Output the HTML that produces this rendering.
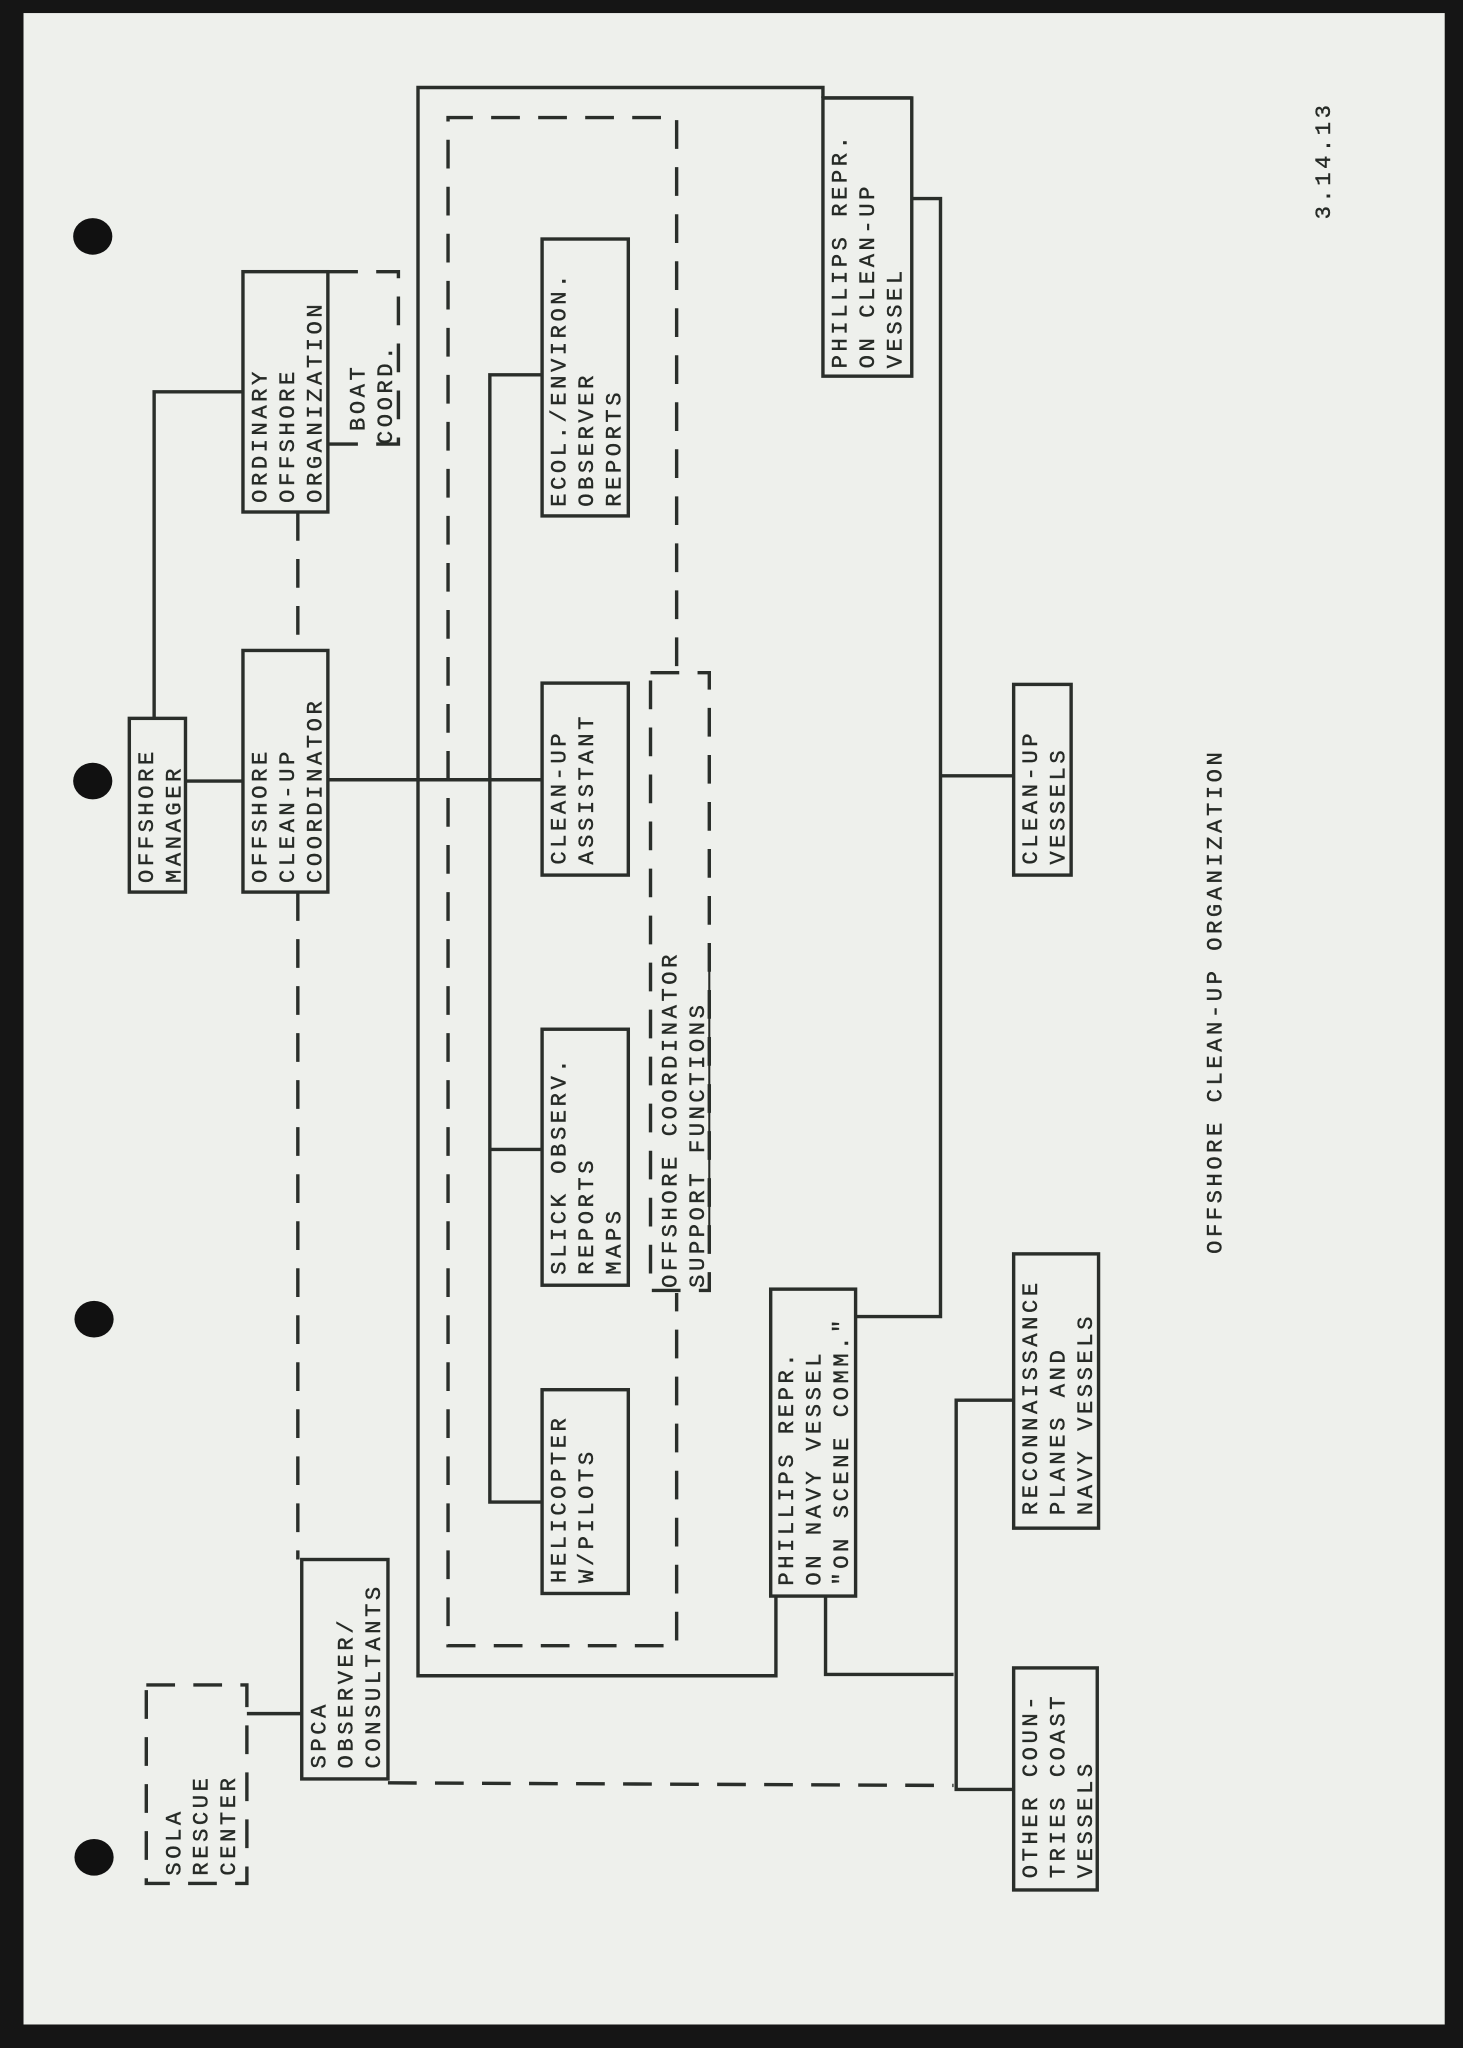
<!DOCTYPE html>
<html><head><meta charset="utf-8"><style>
html,body{margin:0;padding:0;background:#111;}
svg{display:block}
text{font-family:"Liberation Mono",monospace;font-size:17px;letter-spacing:2.7px;fill:#262a26;stroke:#262a26;stroke-width:0.3px;}
</style></head><body>
<svg width="1463" height="2048" viewBox="0 0 1120 1568" preserveAspectRatio="none" xmlns="http://www.w3.org/2000/svg">
<rect x="0" y="0" width="1120" height="1568" fill="#151515"/>
<rect x="18" y="10" width="1088" height="1540" fill="#eef0ec"/>
<g fill="#111">
<ellipse cx="71" cy="181" rx="15" ry="14"/>
<ellipse cx="71" cy="598" rx="15" ry="14"/>
<ellipse cx="72" cy="1010" rx="15" ry="14"/>
<ellipse cx="72" cy="1422" rx="15" ry="14"/>
</g>
<g stroke="#2a2e2a" stroke-width="2.6" fill="none">
<rect x="99" y="550" width="43" height="133"/>
<rect x="186" y="498" width="65" height="185"/>
<rect x="186" y="208" width="65" height="184"/>
<rect x="415" y="183" width="66" height="212"/>
<rect x="415" y="523" width="66" height="147"/>
<rect x="415" y="788" width="66" height="196"/>
<rect x="415" y="1064" width="66" height="156"/>
<rect x="630" y="75" width="68" height="213"/>
<rect x="590" y="987" width="65" height="235"/>
<rect x="776" y="524" width="44" height="146"/>
<rect x="776" y="960" width="65" height="210"/>
<rect x="776" y="1277" width="64" height="170"/>
<rect x="231" y="1194" width="66" height="168"/>
<polyline points="118,550 118,300 186,300"/>
<line x1="142" y1="598" x2="186" y2="598"/>
<line x1="251" y1="597" x2="415" y2="597"/>
<polyline points="415,287 375,287 375,1150 415,1150"/>
<line x1="375" y1="880" x2="415" y2="880"/>
<polyline points="630,75 630,67 320,67 320,1283 594,1283 594,1222"/>
<line x1="630" y1="75" x2="698" y2="75"/>
<polyline points="698,152 720,152 720,1008 655,1008"/>
<line x1="720" y1="594" x2="776" y2="594"/>
<polyline points="632,1222 632,1282 730,1282"/>
<polyline points="776,1072 732,1072 732,1370 776,1370"/>
<line x1="189" y1="1312" x2="231" y2="1312"/>
</g>
<g stroke="#2a2e2a" stroke-width="2.6" fill="none" stroke-dasharray="22,14">
<polyline points="518,510 518,90 343,90 343,1260 518,1260 518,990"/>
<rect x="498" y="515" width="45" height="473"/>
<polyline points="252,208 305,208 305,340 252,340"/>
<rect x="112" y="1290" width="77" height="152"/>
<line x1="228" y1="392" x2="228" y2="498"/>
<line x1="228" y1="683" x2="228" y2="1194"/>
<polyline points="297,1365 730,1367"/>
</g>
<g>
<text transform="translate(117,676) rotate(-90)">OFFSHORE</text>
<text transform="translate(138,676) rotate(-90)">MANAGER</text>
<text transform="translate(204,676) rotate(-90)">OFFSHORE</text>
<text transform="translate(225,676) rotate(-90)">CLEAN-UP</text>
<text transform="translate(246,676) rotate(-90)">COORDINATOR</text>
<text transform="translate(204,385) rotate(-90)">ORDINARY</text>
<text transform="translate(225,385) rotate(-90)">OFFSHORE</text>
<text transform="translate(246,385) rotate(-90)">ORGANIZATION</text>
<text transform="translate(279,330) rotate(-90)">BOAT</text>
<text transform="translate(300,340) rotate(-90)">COORD.</text>
<text transform="translate(433,388) rotate(-90)">ECOL./ENVIRON.</text>
<text transform="translate(454,388) rotate(-90)">OBSERVER</text>
<text transform="translate(475,388) rotate(-90)">REPORTS</text>
<text transform="translate(433,662) rotate(-90)">CLEAN-UP</text>
<text transform="translate(454,662) rotate(-90)">ASSISTANT</text>
<text transform="translate(433,976) rotate(-90)">SLICK OBSERV.</text>
<text transform="translate(454,976) rotate(-90)">REPORTS</text>
<text transform="translate(475,976) rotate(-90)">MAPS</text>
<text transform="translate(433,1212) rotate(-90)">HELICOPTER</text>
<text transform="translate(454,1212) rotate(-90)">W/PILOTS</text>
<text transform="translate(518,986) rotate(-90)">OFFSHORE COORDINATOR</text>
<text transform="translate(539,986) rotate(-90)">SUPPORT FUNCTIONS</text>
<line x1="543" y1="956" x2="543" y2="740" stroke="#2a2e2a" stroke-width="1.6"/>
<text transform="translate(648,282) rotate(-90)">PHILLIPS REPR.</text>
<text transform="translate(669,282) rotate(-90)">ON CLEAN-UP</text>
<text transform="translate(690,282) rotate(-90)">VESSEL</text>
<text transform="translate(607,1214) rotate(-90)">PHILLIPS REPR.</text>
<text transform="translate(628,1214) rotate(-90)">ON NAVY VESSEL</text>
<text transform="translate(649,1214) rotate(-90)">"ON SCENE COMM."</text>
<text transform="translate(794,662) rotate(-90)">CLEAN-UP</text>
<text transform="translate(815,662) rotate(-90)">VESSELS</text>
<text transform="translate(794,1160) rotate(-90)">RECONNAISSANCE</text>
<text transform="translate(815,1160) rotate(-90)">PLANES AND</text>
<text transform="translate(836,1160) rotate(-90)">NAVY VESSELS</text>
<text transform="translate(794,1438) rotate(-90)">OTHER COUN-</text>
<text transform="translate(815,1438) rotate(-90)">TRIES COAST</text>
<text transform="translate(836,1438) rotate(-90)">VESSELS</text>
<text transform="translate(249,1354) rotate(-90)">SPCA</text>
<text transform="translate(270,1354) rotate(-90)">OBSERVER/</text>
<text transform="translate(291,1354) rotate(-90)">CONSULTANTS</text>
<text transform="translate(138,1436) rotate(-90)">SOLA</text>
<text transform="translate(159,1436) rotate(-90)">RESCUE</text>
<text transform="translate(180,1436) rotate(-90)">CENTER</text>
<text transform="translate(935,960) rotate(-90)">OFFSHORE CLEAN-UP ORGANIZATION</text>
<text transform="translate(1018,168) rotate(-90)">3.14.13</text>
</g>
</svg>
</body></html>
